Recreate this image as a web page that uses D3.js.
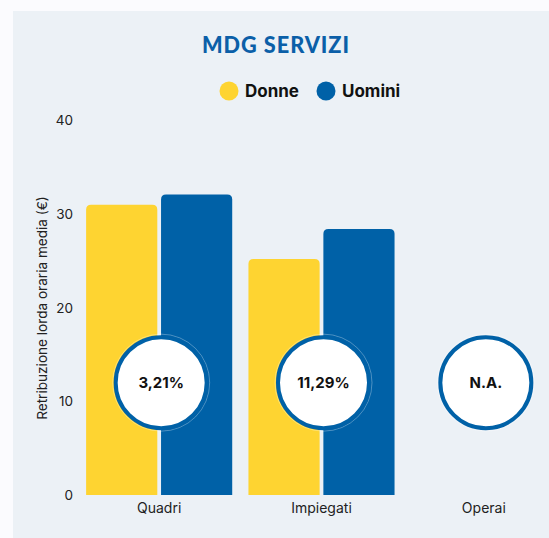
<!DOCTYPE html>
<html>
<head>
<meta charset="utf-8">
<script src="https://cdn.jsdelivr.net/npm/d3@7"></script>
<style>
  body { margin: 0; background: #fbfbfe; }
  svg { display: block; }
</style>
</head>
<body>
<div id="chart"></div>
<script>
// ---------- data ----------
let categories = ['Quadri', 'Impiegati', 'Operai'];
let series = ['Donne', 'Uomini'];
let donne = [31.0, 25.2, null];
let uomini = [32.1, 28.4, null];
let gapLabels = ['3,21%', '11,29%', 'N.A.'];
let yTicks = [0, 10, 20, 30, 40];
let badgeValue = 12;

let w = 549, h = 538;
let colors = {Donne: '#fed431', Uomini: '#0061a7'};

let svg = d3.select('#chart').append('svg')
  .attr('width', w)
  .attr('height', h);

// panel background
svg.append('rect')
  .attr('x', 13).attr('y', 11)
  .attr('width', w - 13).attr('height', h - 11)
  .style('fill', '#ecf1f6');

// scales
let x = d3.scaleBand().domain(categories).range([78, 565]).paddingInner(0.1).paddingOuter(0.05);
let xSub = d3.scaleBand().domain(series).range([0, x.bandwidth()]).paddingInner(0.05);
let y = d3.scaleLinear().domain([0, 40]).range([495, 120.5]);

// title
svg.append('text')
  .text('MDG SERVIZI')
  .attr('x', 276).attr('y', 53)
  .attr('text-anchor', 'middle')
  .attr('textLength', 148)
  .attr('lengthAdjust', 'spacingAndGlyphs')
  .style('font-family', 'Lato, sans-serif')
  .style('font-weight', 900)
  .style('font-size', '23px')
  .style('letter-spacing', '1px')
  .style('fill', '#0b5fa8');

// legend
let legend = svg.append('g').attr('transform', 'translate(229,91)');
let legX = {Donne: 0, Uomini: 97};
series.forEach(function (s) {
  let g = legend.append('g').attr('transform', 'translate(' + legX[s] + ',0)');
  g.append('circle').attr('r', 9.5).style('fill', colors[s]);
  g.append('text')
    .text(s)
    .attr('x', 16).attr('y', 6)
    .style('font-family', 'Inter, sans-serif')
    .style('font-weight', 700)
    .style('font-size', '17px')
    .style('fill', '#111');
});

// y axis (ticks labels only)
let yAxis = d3.axisLeft(y).tickValues(yTicks).tickSize(0).tickPadding(0);
let gy = svg.append('g').attr('transform', 'translate(73,0)').call(yAxis);
gy.select('.domain').remove();
gy.selectAll('text')
  .style('font-family', 'Inter, sans-serif')
  .style('font-size', '13.5px')
  .style('fill', '#222');

svg.append('text')
  .text('Retribuzione lorda oraria media (€)')
  .attr('transform', 'translate(47,308) rotate(-90)')
  .attr('text-anchor', 'middle')
  .style('font-family', 'Inter, sans-serif')
  .style('font-size', '13.6px')
  .style('fill', '#222');

// x axis
let xAxis = d3.axisBottom(x).tickSize(0).tickPadding(0);
let gx = svg.append('g').attr('transform', 'translate(0,500)').call(xAxis);
gx.select('.domain').remove();
gx.selectAll('text')
  .attr('dy', '0.9em')
  .style('font-family', 'Inter, sans-serif')
  .style('font-size', '14px')
  .style('fill', '#222');

// bars with rounded top corners
function topRounded(x0, y0, bw, bh, r) {
  return 'M' + x0 + ',' + (y0 + bh) +
    'V' + (y0 + r) +
    'Q' + x0 + ',' + y0 + ' ' + (x0 + r) + ',' + y0 +
    'H' + (x0 + bw - r) +
    'Q' + (x0 + bw) + ',' + y0 + ' ' + (x0 + bw) + ',' + (y0 + r) +
    'V' + (y0 + bh) + 'Z';
}

let rows = [];
categories.forEach(function (c, i) {
  rows.push({cat: c, s: 'Donne', v: donne[i]});
  rows.push({cat: c, s: 'Uomini', v: uomini[i]});
});

svg.append('g')
  .selectAll('path')
  .data(rows.filter(d => d.v !== null))
  .enter()
  .append('path')
  .attr('d', function (d) {
    let x0 = x(d.cat) + xSub(d.s);
    return topRounded(x0, y(d.v), xSub.bandwidth(), y(0) - y(d.v), 5);
  })
  .style('fill', d => colors[d.s]);

// gap badges
let badges = svg.append('g')
  .selectAll('g')
  .data(categories)
  .enter()
  .append('g')
  .attr('transform', function (d) {
    return 'translate(' + (x(d) + x.bandwidth() / 2 + 2) + ',' + y(badgeValue) + ')';
  });

badges.append('circle')
  .attr('r', 48.5)
  .style('fill', 'none')
  .style('stroke', 'rgba(255,255,255,0.3)')
  .style('stroke-width', 1);

badges.append('circle')
  .attr('r', 45.5)
  .style('fill', '#fff')
  .style('stroke', '#0061a7')
  .style('stroke-width', 4);

badges.append('text')
  .text((d, i) => gapLabels[i])
  .attr('text-anchor', 'middle')
  .attr('dy', '0.35em')
  .style('font-family', 'Inter, sans-serif')
  .style('font-weight', 700)
  .style('font-size', '15px')
  .style('fill', '#111');
</script>
</body>
</html>
